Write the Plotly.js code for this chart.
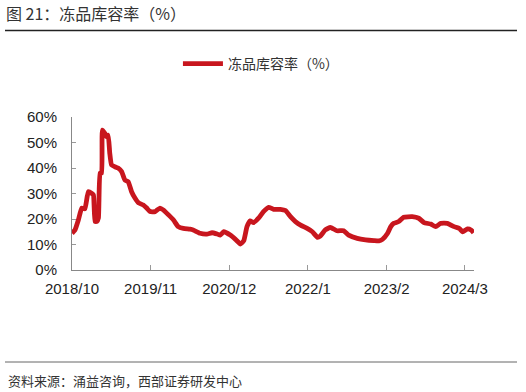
<!DOCTYPE html>
<html>
<head>
<meta charset="utf-8">
<script src="https://cdn.plot.ly/plotly-3.0.1.min.js"></script>
<style>html,body{margin:0;padding:0;background:#fff;}#chart{width:526px;height:392px;}</style>
</head>
<body>
<div id="chart"></div>
<script>
const dates = ["2018-10-01","2018-10-16","2018-11-02","2018-11-19","2018-12-05","2018-12-22","2019-01-09","2019-01-17","2019-01-25","2019-02-03","2019-02-11","2019-02-19","2019-02-27","2019-03-03","2019-03-15","2019-03-23","2019-04-01","2019-04-09","2019-04-18","2019-05-05","2019-05-21","2019-06-08","2019-06-24","2019-07-11","2019-07-28","2019-08-14","2019-09-01","2019-09-25","2019-10-12","2019-10-29","2019-11-23","2019-12-18","2020-01-05","2020-01-30","2020-02-24","2020-03-19","2020-04-14","2020-05-17","2020-06-02","2020-07-07","2020-08-10","2020-09-05","2020-10-01","2020-10-16","2020-11-03","2020-12-06","2021-01-01","2021-01-26","2021-02-12","2021-02-28","2021-03-16","2021-04-02","2021-04-27","2021-05-22","2021-06-17","2021-07-12","2021-08-15","2021-09-10","2021-10-05","2021-10-30","2021-11-25","2021-12-28","2022-01-23","2022-02-18","2022-03-04","2022-03-29","2022-04-24","2022-05-27","2022-06-30","2022-07-25","2022-09-06","2022-10-18","2022-11-29","2022-12-24","2023-01-11","2023-02-06","2023-02-22","2023-03-09","2023-04-03","2023-04-28","2023-06-10","2023-07-13","2023-08-08","2023-09-11","2023-10-06","2023-11-01","2023-12-04","2024-01-07","2024-02-02","2024-02-19","2024-03-14","2024-04-01","2024-04-14"];
const ratio = [14.4,15.7,19.6,24.3,24.0,30.7,30.0,29.4,19.0,19.0,20.4,38.0,38.0,54.9,53.6,52.3,52.9,45.9,41.2,40.5,40.0,38.6,35.3,34.6,30.7,28.2,26.3,25.5,24.3,22.9,22.9,24.3,23.5,21.6,19.6,17.0,16.3,16.0,15.7,14.4,14.1,14.6,14.1,13.7,15.0,13.7,12.0,10.2,11.5,17.0,19.3,18.6,20.3,22.9,24.6,23.8,23.8,23.3,20.9,19.0,17.6,16.3,15.0,12.8,13.3,15.7,16.7,15.4,15.4,13.7,12.4,11.8,11.5,11.4,12.0,14.4,17.0,18.3,19.0,20.7,20.9,20.3,18.6,18.0,17.0,18.3,18.3,17.0,16.3,15.0,16.1,15.7,14.6];
const xTickVals = ["2018-10-01","2019-11-01","2020-12-01","2022-01-01","2023-02-01","2024-03-01"];
const xTickText = ["2018/10","2019/11","2020/12","2022/1","2023/2","2024/3"];
const yTickVals = [0,10,20,30,40,50,60];
const yTickText = ["0%","10%","20%","30%","40%","50%","60%"];
const seriesName = "冻品库容率（%）";
const titleText = "图 21：冻品库容率（%）";
const sourceText = "资料来源：涌益咨询，西部证券研发中心";

const FONT = "'Liberation Sans', Arial, 'Noto Sans CJK SC', sans-serif";
const CJK = "'Noto Sans CJK SC', 'Liberation Sans', sans-serif";

const trace = {
  x: dates, y: ratio, type: 'scatter', mode: 'lines', name: seriesName,
  line: {color: '#C8161E', width: 4.8, shape: 'spline', smoothing: 0.4}
};

const layout = {
  width: 526, height: 392,
  margin: {l: 72, r: 52, t: 117, b: 122},
  paper_bgcolor: '#fff', plot_bgcolor: '#fff',
  font: {family: FONT, size: 15, color: '#222'},
  title: {text: titleText, x: 6/526, xref: 'container', xanchor: 'left', y: 1 - 14/392, yref: 'container', yanchor: 'middle',
          font: {family: CJK, size: 16, color: '#333'}},
  showlegend: true,
  legend: {orientation: 'h', x: 0.47, xanchor: 'center', y: 1.346, yanchor: 'middle',
           font: {family: CJK, size: 14, color: '#333'}, itemwidth: 40},
  xaxis: {type: 'date', range: ['2018-10-01','2024-04-16'], tickvals: xTickVals, ticktext: xTickText,
          showgrid: false, zeroline: false, showline: true, linecolor: '#888', linewidth: 1,
          ticks: 'inside', ticklen: 5, tickcolor: '#999', ticklabelstandoff: 5, tickfont: {size: 15, color: '#222'}},
  yaxis: {range: [0, 60], tickvals: yTickVals, ticktext: yTickText,
          showgrid: false, zeroline: false, showline: true, linecolor: '#888', linewidth: 1,
          ticks: 'inside', ticklen: 4, tickcolor: '#999', ticklabelstandoff: 11, tickfont: {size: 15, color: '#222'}},
  shapes: [
    {type: 'line', xref: 'paper', yref: 'paper', x0: (5-72)/402, x1: (517-72)/402, y0: (270-30.5)/153, y1: (270-30.5)/153,
     line: {color: '#222', width: 1.5}},
    {type: 'line', xref: 'paper', yref: 'paper', x0: (5-72)/402, x1: (517-72)/402, y0: (270-362)/153, y1: (270-362)/153,
     line: {color: '#666', width: 1}}
  ],
  annotations: [
    {text: sourceText, xref: 'paper', yref: 'paper', x: (6-72)/402, xanchor: 'left', y: (270-380)/153, yanchor: 'middle',
     showarrow: false, font: {family: CJK, size: 13, color: '#333'}}
  ]
};

Plotly.newPlot('chart', [trace], layout, {displayModeBar: false, staticPlot: true});
</script>
</body>
</html>
